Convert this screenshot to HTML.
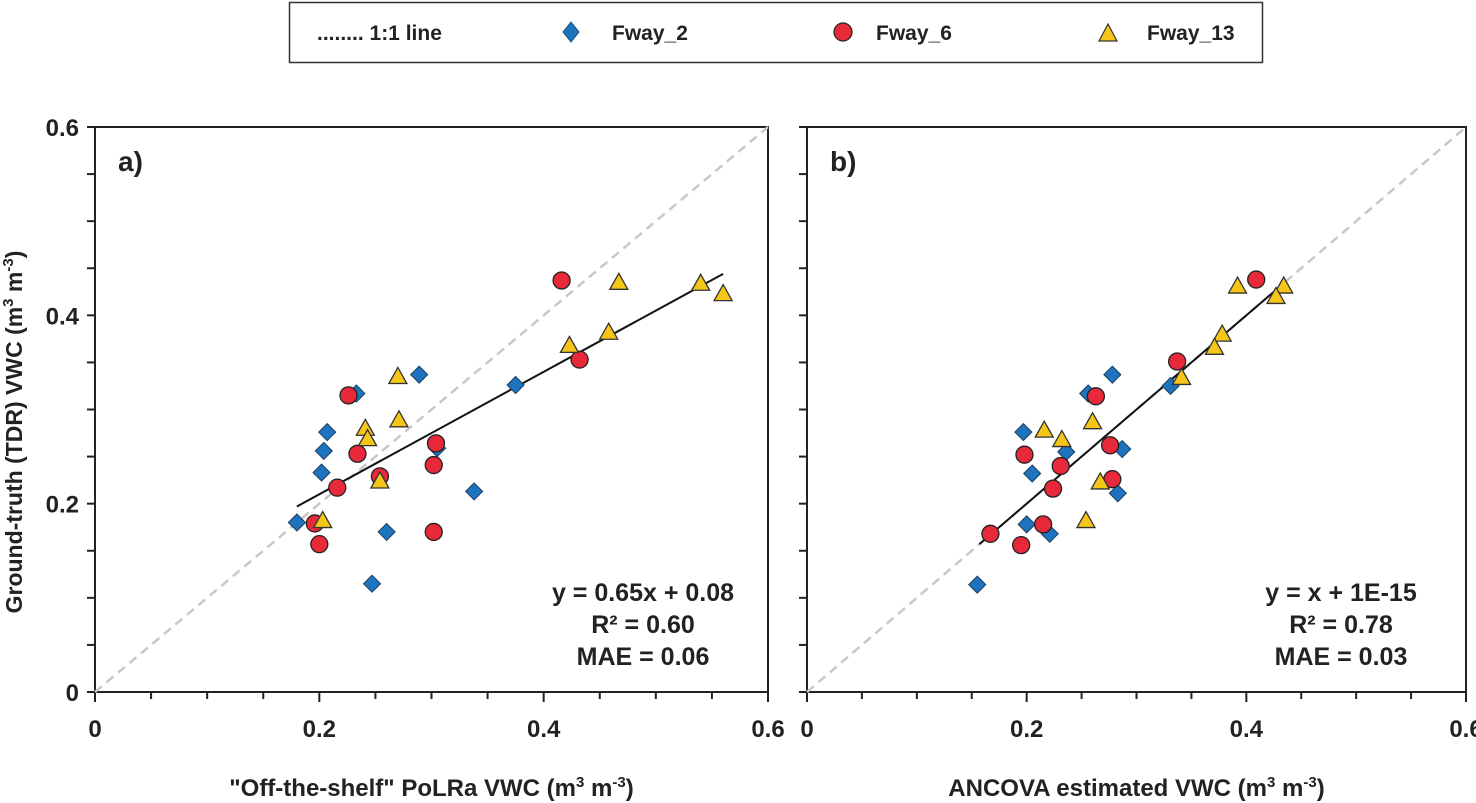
<!DOCTYPE html>
<html><head><meta charset="utf-8"><style>
html,body{margin:0;padding:0;background:#fff;}
svg{display:block;font-family:"Liberation Sans",Arial,sans-serif;}
</style></head><body>
<svg id="chart" width="1476" height="803" viewBox="0 0 1476 803">
<g id="legend">
<rect x="289.5" y="2.5" width="973" height="60" fill="#fff" stroke="#333" stroke-width="1.5"/>
<text x="317" y="40" font-size="21" font-weight="bold" fill="#222">........ 1:1 line</text>
<polygon points="571,22 579,32 571,42 563,32" fill="#1e73be" stroke="#1b4f7a" stroke-width="1"/>
<text x="612" y="40" font-size="21" font-weight="bold" fill="#222">Fway_2</text>
<circle cx="843" cy="32" r="9" fill="#e8293a" stroke="#222" stroke-width="1.2"/>
<text x="876" y="40" font-size="21" font-weight="bold" fill="#222">Fway_6</text>
<polygon points="1108,24 1117,41 1099,41" fill="#f5c518" stroke="#333" stroke-width="1.2"/>
<text x="1147" y="40" font-size="21" font-weight="bold" fill="#222">Fway_13</text>
</g>
<text transform="translate(22,432) rotate(-90)" text-anchor="middle" font-size="23" font-weight="bold" fill="#222">Ground-truth (TDR) VWC (m<tspan font-size="15" dy="-9">3</tspan><tspan dy="9"> m</tspan><tspan font-size="15" dy="-9">-3</tspan><tspan dy="9">)</tspan></text>
</svg>
<script>
// Panel a data
const aF2x=[0.180,0.207,0.204,0.202,0.233,0.289,0.375,0.338,0.260,0.247,0.305];
const aF2y=[0.180,0.276,0.256,0.233,0.317,0.337,0.326,0.213,0.170,0.115,0.259];
const aF6x=[0.416,0.432,0.226,0.234,0.304,0.302,0.254,0.216,0.196,0.200,0.302];
const aF6y=[0.437,0.353,0.315,0.253,0.264,0.241,0.229,0.217,0.179,0.157,0.170];
const aF13x=[0.423,0.458,0.467,0.540,0.560,0.270,0.271,0.241,0.243,0.254,0.203];
const aF13y=[0.367,0.381,0.434,0.433,0.422,0.334,0.288,0.279,0.268,0.223,0.181];
// Panel b data
const bF2x=[0.155,0.197,0.205,0.236,0.200,0.221,0.256,0.278,0.287,0.283,0.331];
const bF2y=[0.114,0.276,0.232,0.255,0.178,0.168,0.317,0.337,0.258,0.211,0.325];
const bF6x=[0.409,0.337,0.263,0.276,0.278,0.198,0.231,0.224,0.215,0.167,0.195];
const bF6y=[0.438,0.351,0.314,0.262,0.226,0.252,0.240,0.216,0.178,0.168,0.156];
const bF13x=[0.392,0.434,0.427,0.378,0.371,0.341,0.260,0.216,0.232,0.267,0.254];
const bF13y=[0.430,0.430,0.419,0.379,0.365,0.333,0.286,0.277,0.267,0.222,0.181];
const tickLabels=["0","0.2","0.4","0.6"];
const tickValues=[0,0.2,0.4,0.6];
const fitA=[0.65,0.08,0.18,0.56];
const fitB=[1.0,0.0,0.157,0.435];
const eqA=["y = 0.65x + 0.08","R² = 0.60","MAE = 0.06"];
const eqB=["y = x + 1E-15","R² = 0.78","MAE = 0.03"];

const NS="http://www.w3.org/2000/svg";
const svg=document.getElementById('chart');
function mk(tag,attrs,parent){const e=document.createElementNS(NS,tag);for(const k in attrs)e.setAttribute(k,attrs[k]);(parent||svg).appendChild(e);return e;}

function panel(id,L,R,T,B,f2x,f2y,f6x,f6y,f13x,f13y,fit,eq,label,title,eqX){
  const g=mk('g',{});
  
  
  const sx=v=>L+v/0.6*(R-L), sy=v=>B-v/0.6*(B-T);
  const fr=mk('path',{d:`M${L-8},${T} H${R} V${B} M${L},${T} V${B+8} M${L-8},${B} H${R}`,stroke:'#222','stroke-width':2,fill:'none'},g);
  
  
  for(let i=0;i<=12;i++){
    const v=i*0.05;
    const tx=mk('line',{x1:sx(v),x2:sx(v),y1:B,y2:B+(i%4==0?10:7),stroke:'#222','stroke-width':2},g);
    
    
    const ty=mk('line',{x1:L-8,x2:L,y1:sy(v),y2:sy(v),stroke:'#222','stroke-width':2},g);
    
    
  }
  tickLabels.forEach((t,i)=>{
    const xl=mk('text',{x:sx(tickValues[i]),y:B+45,'text-anchor':'middle','font-size':24,'font-weight':'bold',fill:'#222'},g);
    xl.textContent=t;
    
    
    if(id==='a'){
      const yl=mk('text',{x:L-16,y:sy(tickValues[i])+9,'text-anchor':'end','font-size':24,'font-weight':'bold',fill:'#222'},g);
      yl.textContent=t;
      
      
    }
  });
  const one=mk('line',{x1:sx(0),y1:sy(0),x2:sx(0.6),y2:sy(0.6),stroke:'#c8c8c8','stroke-width':2.5,'stroke-dasharray':'9,6'},g);
  
  
  const fl=mk('line',{x1:sx(fit[2]),y1:sy(fit[0]*fit[2]+fit[1]),x2:sx(fit[3]),y2:sy(fit[0]*fit[3]+fit[1]),stroke:'#111','stroke-width':2},g);
  
  
  f2x.forEach((v,i)=>{const x=sx(v),y=sy(f2y[i]);
    const p=mk('polygon',{points:`${x},${y-8.5} ${x+8.5},${y} ${x},${y+8.5} ${x-8.5},${y}`,fill:'#1e73be',stroke:'#1b3f60','stroke-width':1},g);
    
    });
  f6x.forEach((v,i)=>{
    const c=mk('circle',{cx:sx(v),cy:sy(f6y[i]),r:8.5,fill:'#e8293a',stroke:'#222','stroke-width':1.3},g);
    
    });
  f13x.forEach((v,i)=>{const x=sx(v),y=sy(f13y[i]);
    const p=mk('polygon',{points:`${x},${y-10} ${x+9},${y+6} ${x-9},${y+6}`,fill:'#f5c518',stroke:'#333','stroke-width':1.3},g);
    
    });
  const lb=mk('text',{x:L+23,y:T+44,'font-size':28,'font-weight':'bold',fill:'#222'},g);
  lb.textContent=label;
  
  
  eq.forEach((t,i)=>{
    const e=mk('text',{x:eqX,y:601+i*32,'text-anchor':'middle','font-size':25,'font-weight':'bold',fill:'#222'},g);
    e.textContent=t;
    
    
  });
  const at=mk('text',{x:(L+R)/2,y:796,'text-anchor':'middle','font-size':24,'font-weight':'bold',fill:'#222'},g);
  at.innerHTML=title;
  
  
}
panel('a',95,768,127,692,aF2x,aF2y,aF6x,aF6y,aF13x,aF13y,fitA,eqA,'a)','"Off-the-shelf" PoLRa VWC (m<tspan font-size="15" dy="-9">3</tspan><tspan dy="9"> m</tspan><tspan font-size="15" dy="-9">-3</tspan><tspan dy="9">)</tspan>',643);
panel('b',807,1466,127,692,bF2x,bF2y,bF6x,bF6y,bF13x,bF13y,fitB,eqB,'b)','ANCOVA estimated VWC (m<tspan font-size="15" dy="-9">3</tspan><tspan dy="9"> m</tspan><tspan font-size="15" dy="-9">-3</tspan><tspan dy="9">)</tspan>',1341);
</script>
</body></html>
